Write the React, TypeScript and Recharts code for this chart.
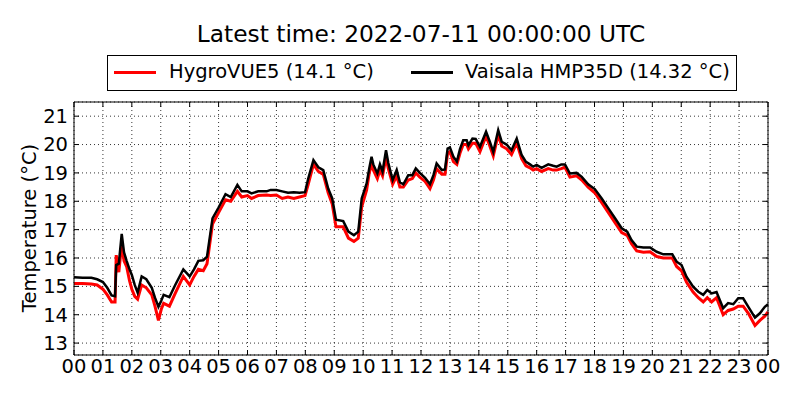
import { LineChart, Line, XAxis, YAxis, CartesianGrid } from "recharts";

const title = "Latest time: 2022-07-11 00:00:00 UTC";
const seriesNames = ["HygroVUE5 (14.1 °C)", "Vaisala HMP35D (14.32 °C)"];

// hours since 00 UTC
const hours = [
  0.0, 0.3, 0.6, 0.8, 1.0, 1.15, 1.3, 1.42, 1.46, 1.55, 1.65, 1.73, 1.82, 1.92, 2.0, 2.1, 2.2, 2.34, 2.5, 2.69,
  2.8, 2.92, 3.02, 3.1, 3.3, 3.5, 3.78, 4.0, 4.15, 4.3, 4.47, 4.6, 4.79, 5.0, 5.24, 5.42, 5.65, 5.8, 6.0, 6.14,
  6.37, 6.66, 6.8, 7.0, 7.2, 7.4, 7.6, 7.8, 7.99, 8.1, 8.28, 8.45, 8.62, 8.79, 8.93, 9.06, 9.31, 9.49, 9.68, 9.83,
  9.95, 10.12, 10.21, 10.29, 10.35, 10.49, 10.58, 10.67, 10.79, 10.87, 11.02, 11.16, 11.27, 11.39, 11.56, 11.7,
  11.82, 11.96, 12.14, 12.31, 12.43, 12.54, 12.72, 12.83, 12.92, 13.0, 13.12, 13.24, 13.35, 13.46, 13.58, 13.64,
  13.78, 13.89, 14.04, 14.25, 14.38, 14.5, 14.67, 14.79, 14.96, 15.13, 15.31, 15.48, 15.63, 15.77, 15.88, 16.0,
  16.17, 16.4, 16.57, 16.69, 16.85, 16.98, 17.15, 17.38, 17.56, 17.78, 18.01, 18.25, 18.48, 18.71, 18.94, 19.13,
  19.28, 19.46, 19.69, 19.92, 20.15, 20.38, 20.55, 20.69, 20.84, 21.01, 21.18, 21.41, 21.59, 21.76, 21.9, 22.05,
  22.22, 22.45, 22.62, 22.8, 22.97, 23.14, 23.32, 23.55, 23.72, 23.89, 24.0,
];

const hmp35d = [
  15.32, 15.3, 15.3, 15.25, 15.15, 14.95, 14.68, 14.65, 15.75, 15.8, 16.85, 16.2, 15.9, 15.6, 15.4, 15.05, 14.78, 15.35, 15.25, 14.95,
  14.6, 14.28, 14.5, 14.7, 14.62, 15.05, 15.6, 15.35, 15.6, 15.9, 15.92, 16.05, 17.4, 17.78, 18.25, 18.15, 18.58, 18.35, 18.35, 18.28,
  18.35, 18.35, 18.4, 18.4, 18.35, 18.3, 18.32, 18.3, 18.32, 18.8, 19.45, 19.2, 19.1, 18.45, 18.1, 17.35, 17.3, 16.93, 16.8, 16.93,
  18.1, 18.63, 19.16, 19.57, 19.3, 18.98, 19.3, 19.05, 19.8, 19.35, 18.75, 19.1, 18.67, 18.6, 18.92, 18.92,
  19.16, 19.0, 18.83, 18.6, 18.92, 19.33, 19.1, 19.12, 19.86, 19.9, 19.57, 19.4, 19.85, 20.15, 20.15, 19.98,
  20.21, 20.2, 19.92, 20.45, 20.1, 19.74, 20.51, 20.1, 20.0, 19.8, 20.21, 19.63, 19.39, 19.3, 19.22, 19.28,
  19.18, 19.3, 19.25, 19.22, 19.3, 19.3, 18.98, 19.0, 18.86, 18.6, 18.43, 18.1, 17.75, 17.4, 17.05, 16.93,
  16.63, 16.4, 16.37, 16.37, 16.22, 16.13, 16.13, 16.13, 15.87, 15.75, 15.34, 14.99, 14.81, 14.7, 14.87, 14.75,
  14.8, 14.23, 14.41, 14.37, 14.58, 14.58, 14.28, 13.9, 14.05, 14.28, 14.37,
];

const hygroVue = [
  15.1, 15.1, 15.08, 15.05, 14.9, 14.7, 14.45, 14.45, 16.1, 15.5, 16.5, 15.9, 15.7, 15.2, 14.9, 14.65, 14.55, 15.05, 14.95, 14.7,
  14.3, 13.8, 14.2, 14.4, 14.3, 14.75, 15.35, 15.05, 15.35, 15.6, 15.55, 15.8, 17.2, 17.6, 18.05, 18.0, 18.35, 18.15, 18.2, 18.1,
  18.2, 18.22, 18.2, 18.22, 18.1, 18.15, 18.1, 18.15, 18.2, 18.6, 19.3, 19.05, 18.95, 18.3, 17.9, 17.1, 17.1, 16.7, 16.58, 16.7,
  17.8, 18.4, 19.0, 19.3, 19.1, 18.8, 19.1, 18.9, 19.55, 19.15, 18.6, 18.9, 18.5, 18.5, 18.75, 18.8,
  19.0, 18.85, 18.7, 18.45, 18.75, 19.15, 18.95, 18.95, 19.7, 19.75, 19.4, 19.3, 19.7, 20.0, 20.0, 19.85,
  20.05, 20.05, 19.75, 20.3, 19.95, 19.6, 20.35, 19.95, 19.85, 19.65, 20.05, 19.5, 19.25, 19.18, 19.1, 19.15,
  19.05, 19.15, 19.1, 19.1, 19.15, 19.2, 18.85, 18.9, 18.75, 18.5, 18.3, 17.95, 17.6, 17.25, 16.9, 16.8,
  16.5, 16.25, 16.2, 16.22, 16.05, 16.0, 16.0, 16.0, 15.7, 15.55, 15.15, 14.8, 14.6, 14.45, 14.6, 14.45,
  14.6, 14.0, 14.15, 14.2, 14.3, 14.3, 14.05, 13.62, 13.8, 13.95, 14.1,
];

const xTicks = [0, 1, 2, 3, 4, 5, 6, 7, 8, 9, 10, 11, 12, 13, 14, 15, 16, 17, 18, 19, 20, 21, 22, 23, 24];
const yTicks = [13, 14, 15, 16, 17, 18, 19, 20, 21];

const data = hours.map((h, i) => ({ h, hygro: hygroVue[i], hmp: hmp35d[i] }));

const font = "'DejaVu Sans', sans-serif";
const tickStyle = { fontSize: 19.5, fill: "#000", fontFamily: font };
const hourLabel = (v: number) => String(v % 24).padStart(2, "0");

export default function App() {
  return (
    <div style={{ position: "absolute", left: 0, top: 0, width: 800, height: 400, background: "#fff", fontFamily: font }}>
      <div style={{ position: "absolute", left: 0, width: 842, top: 20, textAlign: "center", fontSize: 23.3, color: "#000" }}>
        {title}
      </div>
      <div
        style={{
          position: "absolute",
          left: 107,
          top: 55,
          width: 628,
          height: 34,
          border: "1px solid #000",
          fontSize: 19.5,
          color: "#000",
        }}
      >
        <div style={{ position: "absolute", left: 6, top: 15, width: 42, height: 3, background: "#ff0000" }} />
        <div style={{ position: "absolute", left: 61, top: 4, whiteSpace: "nowrap" }}>{seriesNames[0]}</div>
        <div style={{ position: "absolute", left: 303, top: 15, width: 42, height: 3, background: "#000" }} />
        <div style={{ position: "absolute", left: 357, top: 4, whiteSpace: "nowrap" }}>{seriesNames[1]}</div>
      </div>
      <div
        style={{
          position: "absolute",
          left: 29,
          top: 228,
          transform: "translate(-50%, -50%) rotate(-90deg)",
          fontSize: 19.5,
          whiteSpace: "nowrap",
          color: "#000",
        }}
      >
        Temperature (°C)
      </div>
      <div style={{ position: "absolute", left: 0, top: 0 }}>
        <LineChart width={800} height={400} data={data} margin={{ top: 100, right: 30, bottom: 5, left: 14 }}>
          <CartesianGrid xAxisId="b" yAxisId="l" stroke="#000" strokeWidth={0.8} strokeDasharray="1 3" />
          <XAxis
            xAxisId="b"
            type="number"
            dataKey="h"
            domain={[0, 24]}
            ticks={xTicks}
            interval={0}
            tickFormatter={hourLabel}
            height={40}
            tick={tickStyle}
            tickSize={-5}
            tickMargin={9}
            axisLine={{ stroke: "#000" }}
            tickLine={{ stroke: "#000" }}
          />
          <XAxis
            xAxisId="t"
            orientation="top"
            type="number"
            dataKey="h"
            domain={[0, 24]}
            ticks={xTicks}
            interval={0}
            tickFormatter={() => ""}
            height={2}
            tickSize={-5}
            axisLine={{ stroke: "#000" }}
            tickLine={{ stroke: "#000" }}
          />
          <YAxis
            yAxisId="l"
            type="number"
            domain={[12.58, 21.5]}
            ticks={yTicks}
            interval={0}
            allowDataOverflow
            width={60}
            tick={tickStyle}
            tickSize={-5}
            tickMargin={11}
            axisLine={{ stroke: "#000" }}
            tickLine={{ stroke: "#000" }}
          />
          <YAxis
            yAxisId="r"
            orientation="right"
            type="number"
            domain={[12.58, 21.5]}
            ticks={yTicks}
            interval={0}
            allowDataOverflow
            width={2}
            tickFormatter={() => ""}
            tickSize={-5}
            axisLine={{ stroke: "#000" }}
            tickLine={{ stroke: "#000" }}
          />
          <Line
            xAxisId="b"
            yAxisId="l"
            type="linear"
            dataKey="hygro"
            stroke="#ff0000"
            strokeWidth={3}
            dot={false}
            isAnimationActive={false}
          />
          <Line
            xAxisId="b"
            yAxisId="l"
            type="linear"
            dataKey="hmp"
            stroke="#000"
            strokeWidth={2.5}
            dot={false}
            isAnimationActive={false}
          />
        </LineChart>
      </div>
    </div>
  );
}
